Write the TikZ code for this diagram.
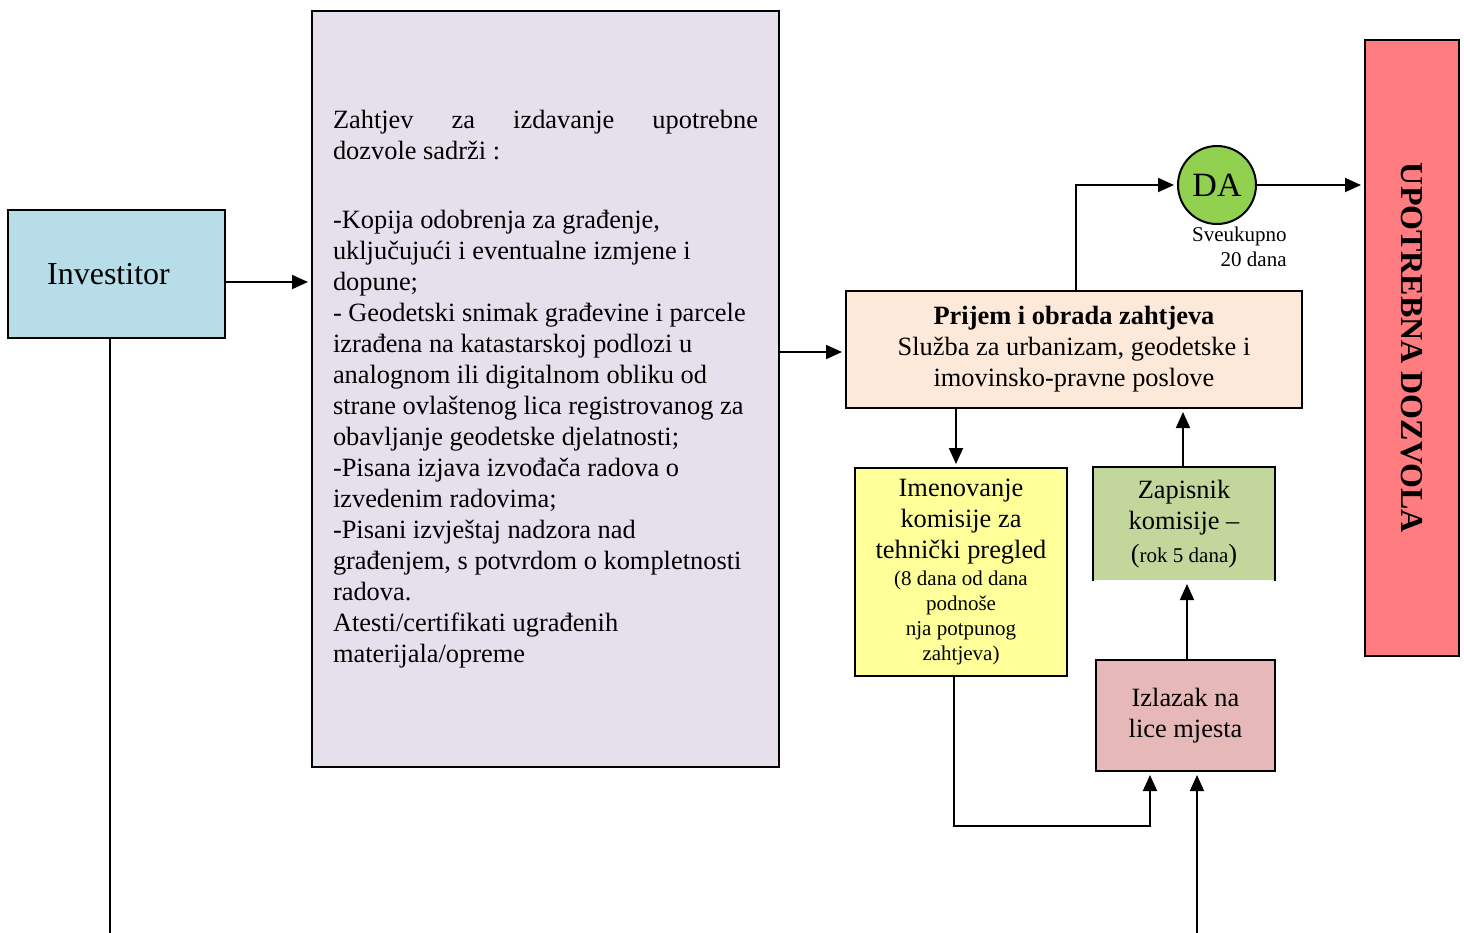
\documentclass[tikz,border=0pt]{standalone}
\usepackage{fontspec}
\setmainfont{Liberation Serif}
\usetikzlibrary{arrows.meta}
\definecolor{invblue}{HTML}{B7DEE8}
\definecolor{reqlilac}{HTML}{E5E0EC}
\definecolor{recpeach}{HTML}{FDE9D9}
\definecolor{dagreen}{HTML}{92D050}
\definecolor{permred}{HTML}{FF7C80}
\definecolor{comyellow}{HTML}{FFFF99}
\definecolor{minolive}{HTML}{C3D69B}
\definecolor{siterose}{HTML}{E6B9B8}
\newcommand\bodytxt{\fontsize{13.2}{15.5}\selectfont}
\newcommand\smalltxt{\fontsize{10.5}{12.3}\selectfont}
\tikzset{
  box/.style={draw, line width=1pt, inner sep=2pt, align=center, font=\bodytxt},
  arr/.style={line width=0.9pt, -{Triangle[length=8pt,width=7pt]}, shorten >=1.5pt},
  plain/.style={line width=0.9pt}
}
\begin{document}
\begin{tikzpicture}[x=0.5pt,y=-0.5pt]
  \useasboundingbox (0,0) rectangle (1464,933);
  % boxes
  \node[box, fill=invblue, minimum width=108.5pt, minimum height=64pt,
        font=\fontsize{16}{19}\selectfont] (inv) at (116.5,274) {Investitor\hspace{8pt}};
  \node[box, fill=reqlilac, minimum width=233.5pt, minimum height=378pt,
        align=left] (req) at (545.5,389)
    {\hbox to 212.5pt{Zahtjev\hfil za\hfil izdavanje\hfil upotrebne}\\
     dozvole sadrži :\\[19pt]
     -Kopija odobrenja za građenje,\\
     uključujući i eventualne izmjene i\\
     dopune;\\
     - Geodetski snimak građevine i parcele\\
     izrađena na katastarskoj podlozi u\\
     analognom ili digitalnom obliku od\\
     strane ovlaštenog lica registrovanog za\\
     obavljanje geodetske djelatnosti;\\
     -Pisana izjava izvođača radova o\\
     izvedenim radovima;\\
     -Pisani izvještaj nadzora nad\\
     građenjem, s potvrdom o kompletnosti\\
     radova.\\
     Atesti/certifikati ugrađenih\\
     materijala/opreme};
  \node[box, fill=recpeach, minimum width=228pt, minimum height=58.5pt] (rec) at (1074,349.5)
    {\textbf{Prijem i obrada zahtjeva}\\
     Služba za urbanizam, geodetske i\\
     imovinsko-pravne poslove};
  \node[circle, draw, line width=1pt, fill=dagreen, minimum size=39pt, inner sep=0pt,
        font=\fontsize{17}{20}\selectfont] (da) at (1217,185) {DA};
  \node[anchor=east, align=right, inner sep=0pt, font=\smalltxt] (total) at (1287,247)
    {Sveukupno\\20 dana};
  \node[box, fill=permred, minimum width=47pt, minimum height=308pt] (perm) at (1412,348)
    {\rotatebox{-90}{\fontsize{16}{19}\selectfont\bfseries UPOTREBNA DOZVOLA}};
  \node[box, fill=comyellow, minimum width=106pt, minimum height=104pt] (com) at (961,572)
    {Imenovanje\\komisije za\\tehnički pregled\\[-2pt]
     \smalltxt (8 dana od dana\\[-3pt]\smalltxt podnoše\\[-3pt]
     \smalltxt nja potpunog\\[-3pt]\smalltxt zahtjeva)};
  \node[box, draw=none, fill=minolive, minimum width=90pt, minimum height=56pt] (min) at (1184,524)
    {Zapisnik\\komisije –\\[1pt]
     (\smalltxt rok 5 dana\bodytxt)};
  \draw[line width=1pt] (min.south west) -- (min.north west) -- (min.north east) -- (min.south east);
  \node[box, fill=siterose, minimum width=89.5pt, minimum height=55.5pt] (site) at (1185.5,715.5)
    {Izlazak na\\lice mjesta};
  % free ends at the bottom edge
  \coordinate (invend) at (110,933);
  \coordinate (sitein) at (1197,933);
  % connectors
  \draw[plain] (inv.south -| invend) -- (invend);
  \draw[arr] (inv.east |- 0,282) -- (req.west |- 0,282);
  \draw[arr] (req.east |- 0,352) -- (rec.west |- 0,352);
  \draw[arr] (rec.north -| 1076,0) |- (da);
  \draw[arr] (da) -- (perm.west |- da);
  \draw[arr] (rec.south -| 956,0) -- (com.north -| 956,0);
  \draw[arr] (min.north -| 1183,0) -- (rec.south -| 1183,0);
  \draw[arr] (site.north -| 1187,0) -- (min.south -| 1187,0);
  \draw[arr] (com.south -| 954,0) -- (954,826) -| (site.south -| 1150,0);
  \draw[arr] (sitein) -- (site.south -| sitein);
\end{tikzpicture}
\end{document}
